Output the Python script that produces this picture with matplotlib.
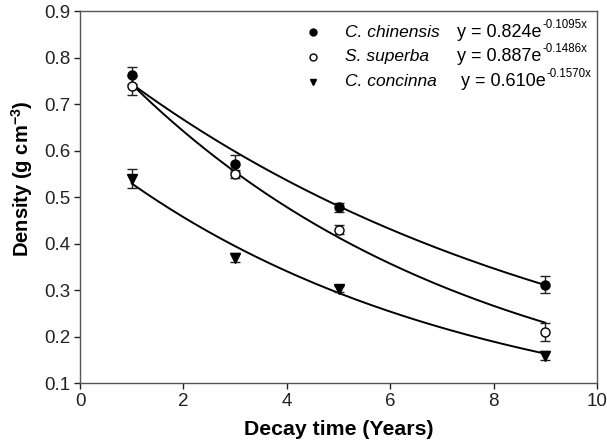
import numpy as np
import matplotlib
matplotlib.use("Agg")
import matplotlib.pyplot as plt

plt.rcParams['font.family'] = ['Liberation Sans', 'DejaVu Sans']
plt.rcParams['mathtext.fontset'] = 'custom'
plt.rcParams['mathtext.rm'] = 'Liberation Sans'
plt.rcParams['mathtext.it'] = 'Liberation Sans:italic'
plt.rcParams['mathtext.bf'] = 'Liberation Sans:bold'

# data
years = [1, 3, 5, 9]
species = ["C. chinensis", "S. superba", "C. concinna"]
density = [
    [0.762, 0.572, 0.478, 0.312],
    [0.740, 0.550, 0.430, 0.210],
    [0.540, 0.370, 0.303, 0.159],
]
errors = [
    [0.018, 0.018, 0.009, 0.018],
    [0.020, 0.008, 0.009, 0.019],
    [0.021, 0.010, 0.006, 0.009],
]
# equations as printed in the legend
eq_base = ["y = 0.824e", "y = 0.887e", "y = 0.610e"]
eq_exp = ["-0.1095x", "-0.1486x", "-0.1570x"]
# fitted curves as they are drawn
curve_a = [0.829, 0.860, 0.613]
curve_b = [-0.109, -0.1466, -0.147]
markers = ["o", "o", "v"]
faces = ["black", "white", "black"]
msizes = [6.5, 6.5, 7.5]

fig = plt.figure(figsize=(6.07, 4.46), dpi=100)
ax = fig.add_axes([0.132, 0.141, 0.8515, 0.834])

xs = np.linspace(1, 9, 200)
for i in range(3):
    ax.errorbar(years, density[i], yerr=errors[i], fmt='none', ecolor='#222222',
                elinewidth=1, capsize=3.6, capthick=1, zorder=2)
    ax.plot(years, density[i], linestyle='none', marker=markers[i], ms=msizes[i],
            mfc=faces[i], mec='black', mew=1, zorder=3)
    ax.plot(xs, curve_a[i] * np.exp(curve_b[i] * xs), color='black', lw=1.4, zorder=1)

ax.set_xlim(0, 10)
ax.set_ylim(0.1, 0.9)
ax.set_xticks(range(0, 11, 2))
yt = np.arange(0.1, 0.91, 0.1)
ax.set_yticks(yt)
ax.set_yticklabels([f"{v:.1f}" for v in yt])
ax.tick_params(direction='out', length=4, width=1, pad=3, labelsize=13.5,
               colors='#222222')
for s in ax.spines.values():
    s.set_color('#555555')
    s.set_linewidth(1)

ax.set_xlabel("Decay time (Years)", fontsize=15.3, fontweight='bold', labelpad=7)
ax.set_ylabel(r"Density (g cm$^{\mathbf{-3}}$)", fontsize=14.5, fontweight='bold')
ax.yaxis.set_label_coords(-0.087, 0.55)

# legend drawn by hand (no frame in the original)
row_y = [0.9435, 0.8777, 0.8105]
bases = []
for i in range(3):
    ax.plot([0.4507], [row_y[i]], transform=ax.transAxes, linestyle='none',
            marker=markers[i], ms=5, mfc=faces[i], mec='black', mew=1, clip_on=False)
    ax.text(0.5126, row_y[i], species[i], transform=ax.transAxes, fontsize=12.5,
            style='italic', va='center', ha='left')
    t = ax.text(0.729 + (0.008 if i == 2 else 0), row_y[i], eq_base[i],
                transform=ax.transAxes, fontsize=13, va='center', ha='left')
    bases.append(t)

fig.canvas.draw()
inv = ax.transAxes.inverted()
for i, t in enumerate(bases):
    bb = t.get_window_extent()
    x1, y1 = inv.transform((bb.x1 + 1, bb.y1 - 1))
    ax.text(x1, y1, eq_exp[i], transform=ax.transAxes, fontsize=8.3,
            va='center', ha='left')

fig.savefig("out.png", dpi=100)
